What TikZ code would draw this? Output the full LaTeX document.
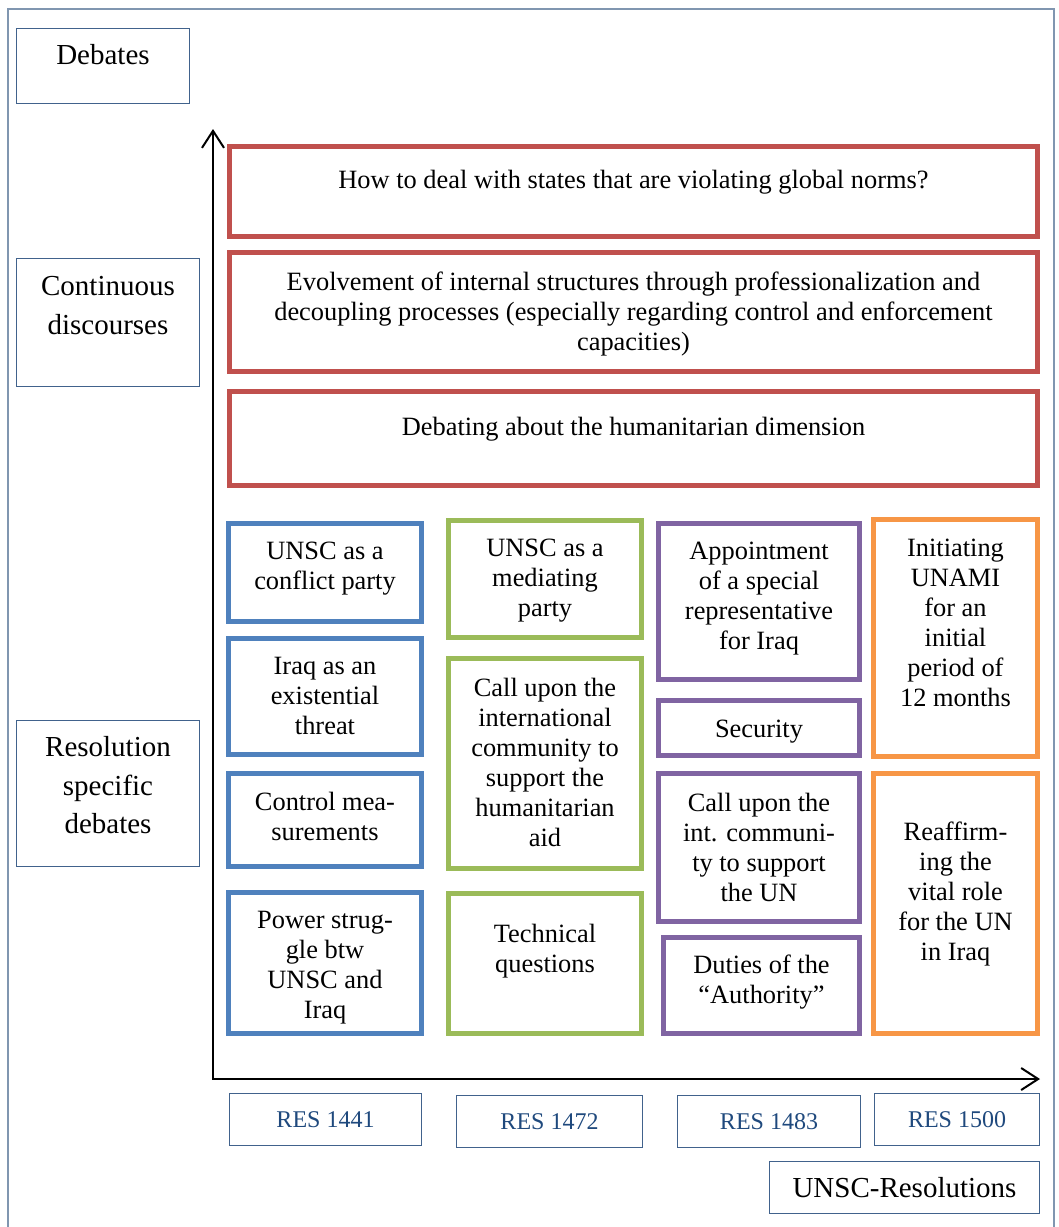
\documentclass[tikz,border=0pt]{standalone}
\usepackage{fontspec}
\setmainfont{Liberation Serif}
\usetikzlibrary{arrows.meta}
\definecolor{resred}{HTML}{C0504D}
\definecolor{resblue}{HTML}{4F81BD}
\definecolor{resgreen}{HTML}{9BBB59}
\definecolor{respurple}{HTML}{8064A2}
\definecolor{resorange}{HTML}{F79646}
\definecolor{resnavy}{HTML}{41628C}
\definecolor{resframe}{HTML}{8096B0}
\definecolor{restext}{HTML}{1F497D}
\newcommand{\celltext}[4]{\parbox[c][#2pt][t]{#1pt}{\centering\vspace*{#3pt}#4}}

\begin{document}
\begin{tikzpicture}[x=1pt, y=-1pt,
  discbox/.style={draw=#1, line width=5pt, inner sep=0pt, font=\fontsize{26.4}{30}\selectfont},
  labelbox/.style={draw=resnavy, line width=1.2pt, inner sep=0pt, font=\fontsize{29}{38.8}\selectfont},
  resbox/.style={draw=resnavy, line width=1.2pt, inner sep=0pt, minimum height=51.8pt, text=restext, font=\fontsize{24}{28}\selectfont},
  axisline/.style={line width=2pt, >={Straight Barb[length=17pt,width=22pt]}}]
  \useasboundingbox (0,0) rectangle (1059,1227);
  % frame
  \draw[resframe, line width=1.3pt] (8,1227) -- (8,9) -- (1054,9) -- (1054,1227);
  % row labels
  \node[labelbox] (debates) at (103,66) {\celltext{172.8}{74.8}{16}{Debates}};
  \node[labelbox] (continuous) at (108,322.5) {\celltext{182.8}{127.8}{18}{Continuous\\ discourses}};
  \node[labelbox] (specific) at (108,793.5) {\celltext{182.8}{145.8}{15.5}{Resolution\\ specific\\ debates}};
  % axes
  \coordinate (origin) at (213,1079);
  \coordinate (ytop) at (213,129);
  \coordinate (xend) at (1040,1079);
  \draw[axisline, <->] (ytop) -- (origin) -- (xend);
  % continuous discourses
  \node[discbox=resred] (norms) at (633.5,191.5) {\celltext{808}{90}{23.5}{How to deal with states that are violating global norms?}};
  \node[discbox=resred] (structures) at (633.5,312) {\celltext{808}{119}{19.5}{Evolvement of internal structures through professionalization and\\ decoupling processes (especially regarding control and enforcement\\ capacities)}};
  \node[discbox=resred] (humanitarian) at (633.5,438.5) {\celltext{808}{94}{25.5}{Debating about the humanitarian dimension}};
  % RES 1441
  \node[discbox=resblue] (conflict) at (325,572.5) {\celltext{193}{98}{18.5}{UNSC as a\\ conflict party}};
  \node[discbox=resblue] (threat) at (325,696.5) {\celltext{193}{116}{18.5}{Iraq as an\\ existential\\ threat}};
  \node[discbox=resblue] (control) at (325,820) {\celltext{193}{93}{18.5}{Control mea-\\ surements}};
  \node[discbox=resblue] (power) at (325,963) {\celltext{193}{141}{18.5}{Power strug-\\ gle btw\\ UNSC and\\ Iraq}};
  % RES 1472
  \node[discbox=resgreen] (mediating) at (545,579) {\celltext{193}{117}{18.5}{UNSC as a\\ mediating\\ party}};
  \node[discbox=resgreen] (aid) at (545,763.5) {\celltext{193}{210}{19.5}{Call upon the\\ international\\ community to\\ support the\\ humanitarian\\ aid}};
  \node[discbox=resgreen] (technical) at (545,963.5) {\celltext{193}{140}{30.5}{Technical\\ questions}};
  % RES 1483
  \node[discbox=respurple] (appointment) at (759,601.5) {\celltext{201}{156}{18.5}{Appointment\\ of a special\\ representative\\ for Iraq}};
  \node[discbox=respurple] (security) at (759,728) {\celltext{201}{55}{19.5}{Security}};
  \node[discbox=respurple] (support) at (759,847.5) {\celltext{201}{148}{19.5}{Call upon the\\ int. communi-\\ ty to support\\ the UN}};
  \node[discbox=respurple] (duties) at (761.5,985.5) {\celltext{196}{96}{17.5}{Duties of the\\ “Authority”}};
  % RES 1500
  \node[discbox=resorange] (unami) at (955.5,638) {\celltext{164}{237}{19.5}{Initiating\\ UNAMI\\ for an\\ initial\\ period of\\ 12 months}};
  \node[discbox=resorange] (vital) at (955.5,903.5) {\celltext{164}{260}{48.5}{Reaffirm-\\ ing the\\ vital role\\ for the UN\\ in Iraq}};
  % resolutions
  \node[resbox, minimum width=191.8pt] (res1441) at (325.5,1119.5) {RES 1441};
  \node[resbox, minimum width=185.8pt] (res1472) at (549.5,1121.5) {RES 1472};
  \node[resbox, minimum width=182.8pt] (res1483) at (769,1121.5) {RES 1483};
  \node[resbox, minimum width=164.8pt] (res1500) at (957,1119.5) {RES 1500};
  \node[labelbox, minimum width=269.8pt, minimum height=51.8pt] (resolutions) at (904.5,1187.5) {UNSC-Resolutions};
\end{tikzpicture}
\end{document}
